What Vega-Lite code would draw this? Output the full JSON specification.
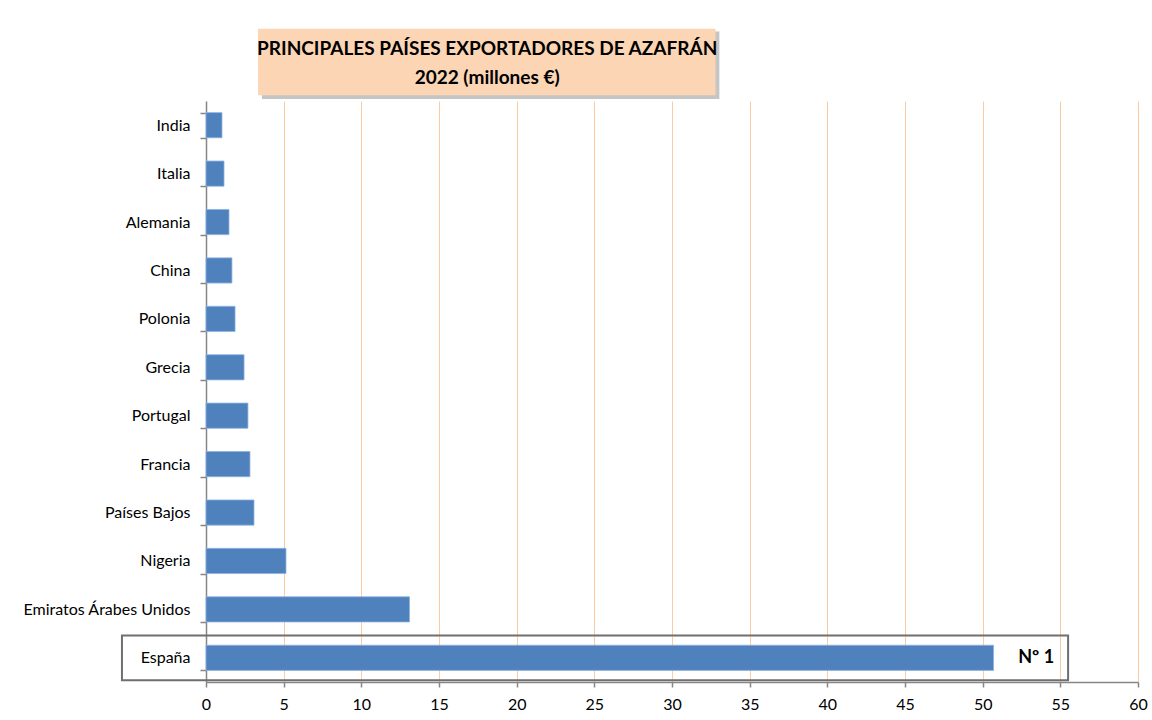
{
  "$schema": "https://vega.github.io/schema/vega-lite/v6.json",
  "padding": {"left": 22, "top": 24, "right": 5, "bottom": 5},
  "background": "white",
  "spacing": 2,
  "bounds": "flush",
  "config": {
    "view": {"stroke": null},
    "font": "Lato, Open Sans, sans-serif"
  },
  "datasets": {
    "paises": [
      {"pais": "India", "valor": 1.03},
      {"pais": "Italia", "valor": 1.16},
      {"pais": "Alemania", "valor": 1.48},
      {"pais": "China", "valor": 1.67},
      {"pais": "Polonia", "valor": 1.87},
      {"pais": "Grecia", "valor": 2.45},
      {"pais": "Portugal", "valor": 2.7},
      {"pais": "Francia", "valor": 2.83},
      {"pais": "Países Bajos", "valor": 3.09},
      {"pais": "Nigeria", "valor": 5.15},
      {"pais": "Emiratos Árabes Unidos", "valor": 13.1},
      {"pais": "España", "valor": 50.7}
    ],
    "titulo": [
      {"linea1": "PRINCIPALES PAÍSES EXPORTADORES DE AZAFRÁN", "linea2": "2022 (millones €)"}
    ],
    "destacado": [
      {"pais": "España", "etiqueta": "Nº 1"}
    ]
  },
  "vconcat": [
    {
      "width": 932,
      "height": 75,
      "data": {"name": "titulo"},
      "layer": [
        {
          "mark": {"type": "rect", "fill": "#7f7f7f", "opacity": 0.45},
          "encoding": {
            "x": {"datum": 3.6, "type": "quantitative", "scale": {"domain": [0, 60]}, "axis": null},
            "x2": {"datum": 33.05},
            "y": {"datum": 0.0, "type": "quantitative", "scale": {"domain": [0, 75]}, "axis": null},
            "y2": {"datum": 72}
          }
        },
        {
          "mark": {"type": "rect", "fill": "#FCD5B5"},
          "encoding": {
            "x": {"datum": 3.35, "type": "quantitative"},
            "x2": {"datum": 32.8},
            "y": {"datum": 4, "type": "quantitative"},
            "y2": {"datum": 75}
          }
        },
        {
          "mark": {"type": "text", "fontSize": 19, "fontWeight": "bold", "color": "#000000", "baseline": "middle"},
          "encoding": {
            "x": {"datum": 18.1, "type": "quantitative"},
            "y": {"datum": 53, "type": "quantitative"},
            "text": {"field": "linea1"}
          }
        },
        {
          "mark": {"type": "text", "fontSize": 19, "fontWeight": "bold", "color": "#000000", "baseline": "middle"},
          "encoding": {
            "x": {"datum": 18.1, "type": "quantitative"},
            "y": {"datum": 22, "type": "quantitative"},
            "text": {"field": "linea2"}
          }
        }
      ]
    },
    {
      "width": 932,
      "height": 581,
      "layer": [
        {
          "data": {"name": "paises"},
          "mark": {"type": "bar", "color": "#4F81BD", "stroke": "#8DB3E2", "strokeWidth": 0.8},
          "encoding": {
            "y": {
              "field": "pais",
              "type": "nominal",
              "sort": null,
              "scale": {"domain": ["India", "Italia", "Alemania", "China", "Polonia", "Grecia", "Portugal", "Francia", "Países Bajos", "Nigeria", "Emiratos Árabes Unidos", "España"], "paddingInner": 0.48, "paddingOuter": 0.24},
              "axis": {
                "title": null,
                "domainColor": "#868686",
                "domainWidth": 1.5,
                "tickColor": "#868686",
                "tickWidth": 1.5,
                "tickSize": 6,
                "tickBand": "extent",
                "labelFontSize": 16,
                "labelColor": "#000000",
                "labelPadding": 10,
                "labelLimit": 300
              }
            },
            "x": {
              "field": "valor",
              "type": "quantitative",
              "scale": {"domain": [0, 60], "nice": false},
              "axis": {
                "title": null,
                "values": [0, 5, 10, 15, 20, 25, 30, 35, 40, 45, 50, 55, 60],
                "grid": true,
                "gridColor": "#FBCBA3",
                "gridWidth": 1,
                "domainColor": "#868686",
                "domainWidth": 1.5,
                "tickColor": "#868686",
                "tickWidth": 1.5,
                "tickSize": 5,
                "labelFontSize": 16,
                "labelColor": "#000000",
                "labelPadding": 9,
                "labelFlush": false
              }
            }
          }
        },
        {
          "data": {"name": "destacado"},
          "mark": {"type": "rect", "fill": null, "stroke": "#6f6f6f", "strokeWidth": 2, "clip": false, "height": {"band": 1.78}},
          "encoding": {
            "y": {"field": "pais", "type": "nominal", "sort": null},
            "x": {"datum": -5.41, "type": "quantitative"},
            "x2": {"datum": 55.5}
          }
        },
        {
          "data": {"name": "destacado"},
          "mark": {"type": "text", "fontSize": 18, "fontWeight": "bold", "align": "right", "baseline": "middle", "color": "#000000"},
          "encoding": {
            "y": {"field": "pais", "type": "nominal", "sort": null},
            "x": {"datum": 54.6, "type": "quantitative"},
            "text": {"field": "etiqueta"}
          }
        }
      ]
    }
  ]
}
